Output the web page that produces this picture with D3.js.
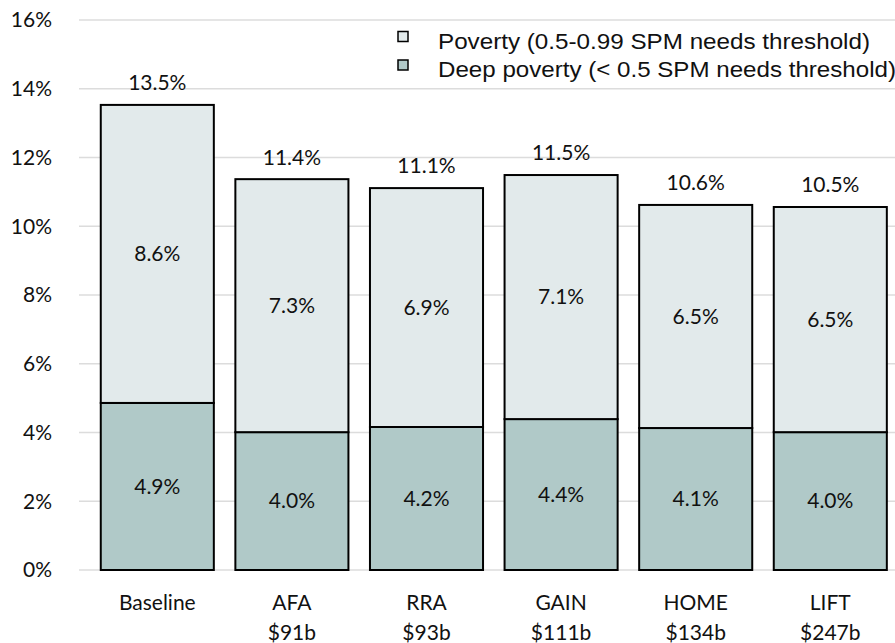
<!DOCTYPE html>
<html><head><meta charset="utf-8">
<script src="https://cdn.jsdelivr.net/npm/d3@7"></script>
<style>body{margin:0;background:#fff}svg{display:block}</style>
</head><body>
<svg id="c" width="895" height="643"></svg>
<script>
const categories = ["Baseline","AFA","RRA","GAIN","HOME","LIFT"];
const costs = ["", "$91b", "$93b", "$111b", "$134b", "$247b"];
const deepPoverty = [4.86, 4.01, 4.16, 4.39, 4.13, 4.01];
const poverty = [8.67, 7.36, 6.95, 7.10, 6.49, 6.55];
const deepLabels = ["4.9%","4.0%","4.2%","4.4%","4.1%","4.0%"];
const povertyLabels = ["8.6%","7.3%","6.9%","7.1%","6.5%","6.5%"];
const totalLabels = ["13.5%","11.4%","11.1%","11.5%","10.6%","10.5%"];
const yTicks = [0,2,4,6,8,10,12,14,16];
const seriesNames = ["Poverty (0.5-0.99 SPM needs threshold)","Deep poverty (< 0.5 SPM needs threshold)"];
const colors = {poverty:"#e2eaeb", deep:"#b0c9c8"};

const svg = d3.select("#c");
const font = "Lato, 'Open Sans', sans-serif";
const y = d3.scaleLinear().domain([0,16]).range([570,20]);
const x = d3.scaleBand().domain(categories).range([90, 897.6]).paddingInner(0.16).paddingOuter(0.08);

// gridlines
svg.append("g").selectAll("line").data(yTicks).join("line")
  .attr("x1",79).attr("x2",895).attr("y1",d=>y(d)).attr("y2",d=>y(d))
  .attr("stroke","#dcdcdc").attr("stroke-width",1.5);
// y tick labels
svg.append("g").selectAll("text").data(yTicks).join("text")
  .attr("x",52).attr("y",d=>y(d)).attr("dy","0.35em").attr("text-anchor","end")
  .attr("font-family",font).attr("font-size",21).attr("fill","#111")
  .text(d=>d+"%");

const data = categories.map((c,i)=>({c,deep:deepPoverty[i],pov:poverty[i],i}));
const g = svg.append("g");
g.selectAll("rect.deep").data(data).join("rect").attr("class","deep")
  .attr("x",d=>x(d.c)).attr("width",x.bandwidth())
  .attr("y",d=>y(d.deep)).attr("height",d=>y(0)-y(d.deep))
  .attr("fill",colors.deep).attr("stroke","#000").attr("stroke-width",2);
g.selectAll("rect.pov").data(data).join("rect").attr("class","pov")
  .attr("x",d=>x(d.c)).attr("width",x.bandwidth())
  .attr("y",d=>y(d.deep+d.pov)).attr("height",d=>y(d.deep)-y(d.deep+d.pov))
  .attr("fill",colors.poverty).attr("stroke","#000").attr("stroke-width",2);

const lab = (sel)=>sel.attr("text-anchor","middle").attr("font-family",font).attr("font-size",21).attr("fill","#111");
g.selectAll("text.dl").data(data).join("text").attr("class","dl").call(lab)
  .attr("x",d=>x(d.c)+x.bandwidth()/2).attr("y",d=>(y(0)+y(d.deep))/2).attr("dy","0.35em")
  .text(d=>deepLabels[d.i]);
g.selectAll("text.pl").data(data).join("text").attr("class","pl").call(lab)
  .attr("x",d=>x(d.c)+x.bandwidth()/2).attr("y",d=>(y(d.deep)+y(d.deep+d.pov))/2).attr("dy","0.35em")
  .text(d=>povertyLabels[d.i]);
g.selectAll("text.tl").data(data).join("text").attr("class","tl").call(lab)
  .attr("x",d=>x(d.c)+x.bandwidth()/2).attr("y",d=>y(d.deep+d.pov)-22).attr("dy","0.35em")
  .text(d=>totalLabels[d.i]);

// x labels
const xl = svg.append("g").selectAll("text").data(data).join("text").call(lab)
  .attr("x",d=>x(d.c)+x.bandwidth()/2).attr("y",603).attr("dy","0.35em");
xl.append("tspan").text(d=>d.c);
xl.append("tspan").attr("x",d=>x(d.c)+x.bandwidth()/2).attr("dy","1.4em").text(d=>costs[d.i]);

// legend
const lg = svg.append("g");
const lrows = [{n:seriesNames[0],c:colors.poverty,w:432},{n:seriesNames[1],c:colors.deep,w:458}];
lg.selectAll("rect").data(lrows).join("rect")
  .attr("x",398).attr("y",(d,i)=>31.5+i*28.5).attr("width",10).attr("height",10)
  .attr("fill",d=>d.c).attr("stroke","#000").attr("stroke-width",1.5);
lg.selectAll("text").data(lrows).join("text")
  .attr("x",438).attr("y",(d,i)=>41+i*28.5).attr("dy","0.35em")
  .attr("font-family","'Liberation Sans', Arial, sans-serif").attr("font-size",22.5).attr("fill","#111")
  .attr("textLength",d=>d.w).attr("lengthAdjust","spacingAndGlyphs")
  .text(d=>d.n);
</script>
</body></html>
